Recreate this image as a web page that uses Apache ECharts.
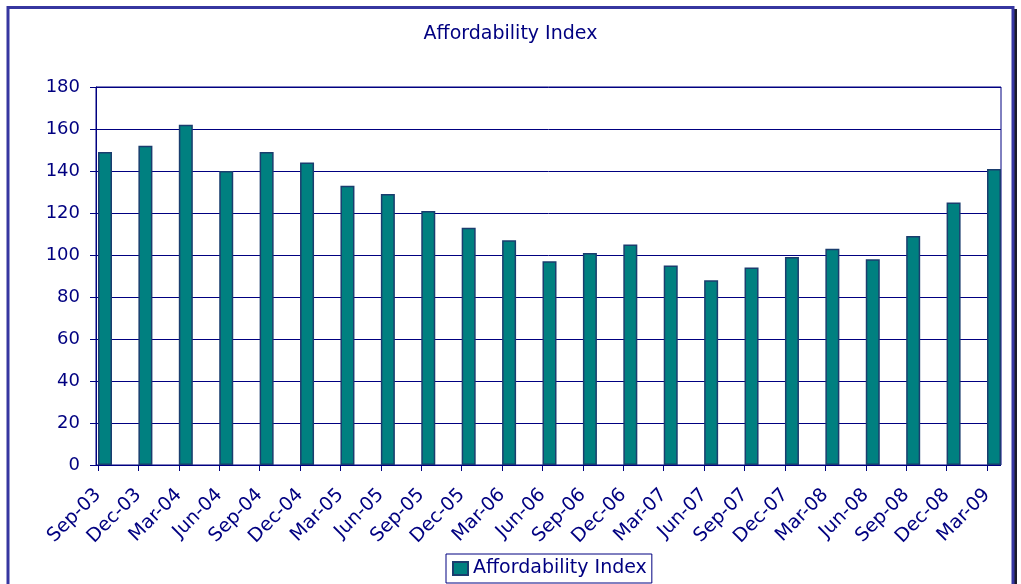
<!DOCTYPE html>
<html>
<head>
<meta charset="utf-8">
<script src="https://cdn.jsdelivr.net/npm/echarts@6/dist/echarts.min.js"></script>
<style>
html,body{margin:0;padding:0;background:#fff;}
#chart{width:1021px;height:584px;}
</style>
</head>
<body>
<div id="chart"></div>
<script>
const chartTitle = 'Affordability Index';
const seriesName = 'Affordability Index';
const categories = ['Sep-03','Dec-03','Mar-04','Jun-04','Sep-04','Dec-04','Mar-05','Jun-05','Sep-05','Dec-05','Mar-06','Jun-06','Sep-06','Dec-06','Mar-07','Jun-07','Sep-07','Dec-07','Mar-08','Jun-08','Sep-08','Dec-08','Mar-09'];
const values = [149,152,162,140,149,144,133,129,121,113,107,97,101,105,95,88,94,99,103,98,109,125,141];
const yMin = 0, yMax = 180, yStep = 20;

const navy = '#000080';
const font = 'DejaVu Sans';
const chart = echarts.init(document.getElementById('chart'));
chart.setOption({
  backgroundColor: '#ffffff',
  animation: false,
  title: {
    text: chartTitle, left: 'center', top: 25, padding: 0,
    textStyle: {color: navy, fontFamily: font, fontSize: 19, fontWeight: 'normal'}
  },
  legend: {
    data: [seriesName], top: 554, left: 446,
    borderColor: navy, borderWidth: 1, padding: [5, 5, 5, 6],
    itemWidth: 15, itemHeight: 13, icon: 'rect',
    textStyle: {color: navy, fontFamily: font, fontSize: 19}
  },
  grid: [
    {left: 98, top: 87, width: 889, height: 378, show: false},
    {left: 96, top: 87, width: 905, height: 378, show: true, borderColor: navy, borderWidth: 1, backgroundColor: 'transparent'}
  ],
  xAxis: [
    {type: 'category', gridIndex: 0, data: categories, boundaryGap: false,
     axisLine: {show: true, lineStyle: {color: navy, width: 1}},
     axisTick: {show: true, length: 6, lineStyle: {color: navy}, interval: 0},
     axisLabel: {interval: 0, rotate: 45, margin: 27, color: navy, fontFamily: font, fontSize: 19},
     splitLine: {show: false}},
    {type: 'value', gridIndex: 1, show: false, min: 0, max: 1}
  ],
  yAxis: [
    {type: 'value', gridIndex: 0, min: yMin, max: yMax, interval: yStep, show: false, splitLine: {show: false}},
    {type: 'value', gridIndex: 1, min: yMin, max: yMax, interval: yStep,
     axisLine: {show: true, lineStyle: {color: navy, width: 1}},
     axisTick: {show: true, length: 6, lineStyle: {color: navy}},
     axisLabel: {margin: 16, color: navy, fontFamily: font, fontSize: 18},
     splitLine: {show: true, lineStyle: {color: navy, width: 1}}}
  ],
  series: [
    {name: '_spacer', type: 'bar', xAxisIndex: 0, yAxisIndex: 0, data: categories.map(() => null),
     barWidth: 14, barGap: '0%', silent: true},
    {name: seriesName, type: 'bar', xAxisIndex: 0, yAxisIndex: 0, data: values,
     barWidth: 14, barGap: '0%',
     itemStyle: {color: '#008080', borderColor: '#1a3d6e', borderWidth: 1.5}}
  ],
  graphic: [
    {type: 'rect', z: 100, silent: true, shape: {x: 1014, y: 9, width: 3, height: 600}, style: {fill: '#1a1a2a'}},
    {type: 'rect', z: 101, silent: true, shape: {x: 8, y: 7.5, width: 1005, height: 600},
     style: {fill: 'none', stroke: '#3636a0', lineWidth: 3}}
  ]
});
</script>
</body>
</html>
